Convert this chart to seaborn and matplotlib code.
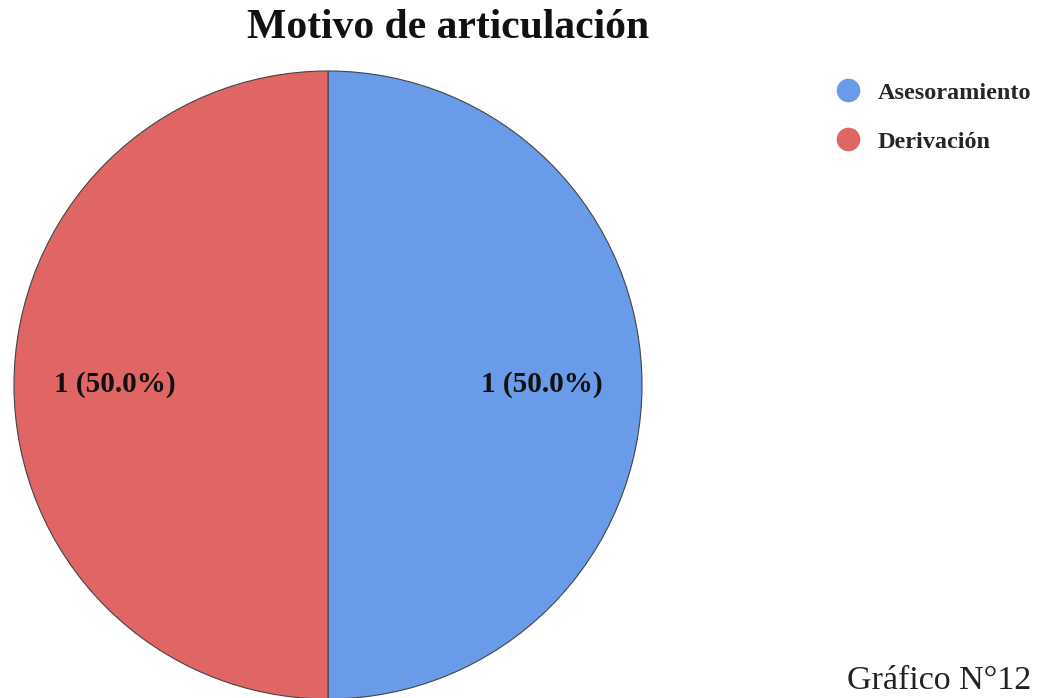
import seaborn as sns
import matplotlib.pyplot as plt
from matplotlib.lines import Line2D

categorias = ["Asesoramiento", "Derivación"]
valores = [1, 1]
colores = ["#6a9be8", "#e06666"]

sns.set_theme(style="white")
plt.rcParams["font.family"] = ["Liberation Serif", "DejaVu Serif"]

fig = plt.figure(figsize=(10.49, 6.98), dpi=100)
W, H = 1049, 698
# eje del pie: centro ~ (328, 385), radio ~ 314 px
ax = fig.add_axes([14 / W, (H - 699) / H, 628 / W, 628 / H])

total = sum(valores)


def etiqueta(pct):
    n = round(pct * total / 100)
    return f"{n} ({pct:.1f}%)"


wedges, textos, autotextos = ax.pie(
    valores,
    colors=colores,
    startangle=90,
    counterclock=False,
    autopct=etiqueta,
    pctdistance=0.68,
    radius=1,
    wedgeprops={"edgecolor": "#444444", "linewidth": 0.8},
    textprops={"fontsize": 21, "fontweight": "bold", "color": "#111111"},
)
ax.set_xlim(-1.0, 1.0)
ax.set_ylim(-1.0, 1.0)
ax.set_aspect("equal")
ax.axis("off")

fig.text(448 / W, 1 - 28 / H, "Motivo de articulación", ha="center", va="center",
         fontsize=30, fontweight="bold", color="#111111")

handles = [Line2D([0], [0], marker="o", linestyle="", markersize=16,
                  markerfacecolor=c, markeredgecolor=c) for c in colores]
leg = fig.legend(handles, categorias, loc="upper left",
                 bbox_to_anchor=(812 / W, 1 - 60 / H), frameon=False,
                 prop={"family": "Liberation Serif", "weight": "bold", "size": 17.5},
                 labelspacing=1.1, handletextpad=0.6, handlelength=1.2)

fig.text(1031 / W, 2 / H, "Gráfico N°12", ha="right", va="bottom",
         fontsize=24.5, color="#222222")

fig.savefig("out.png", dpi=100)
